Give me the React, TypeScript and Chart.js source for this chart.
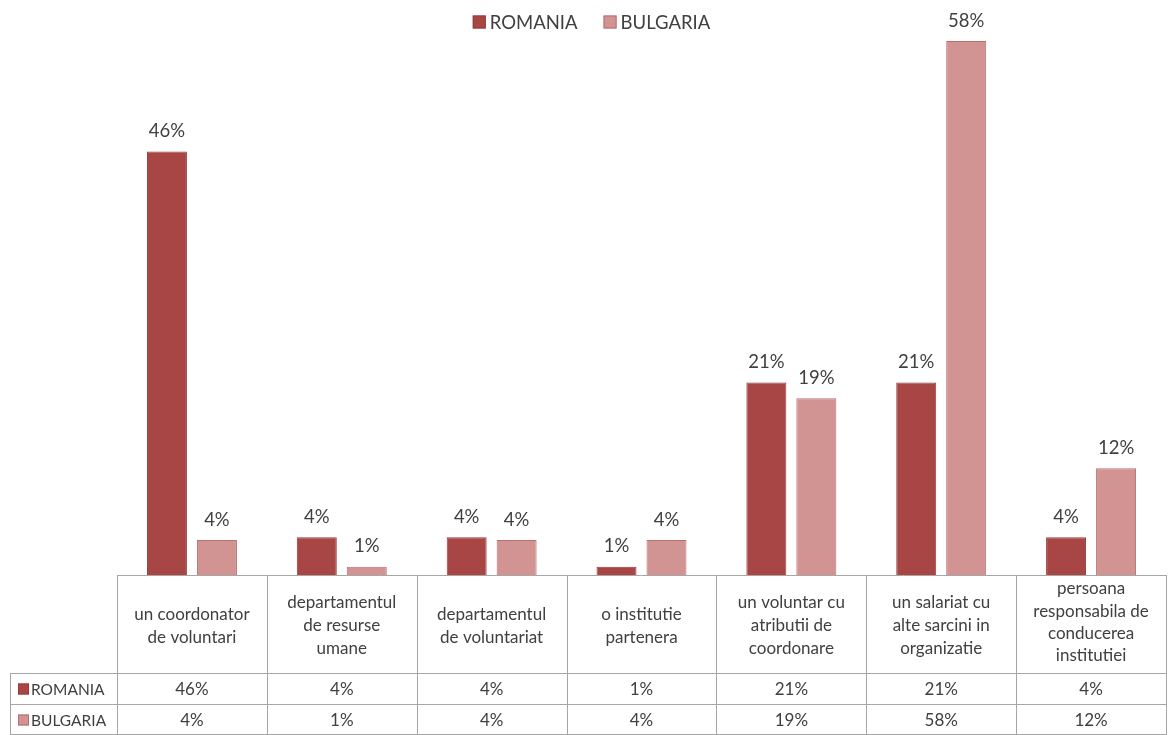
import React, { useEffect, useRef } from "react";
import { Chart, registerables } from "chart.js";

Chart.register(...registerables);

const categories: string[][] = [
  ["un coordonator", "de voluntari"],
  ["departamentul", "de resurse", "umane"],
  ["departamentul", "de voluntariat"],
  ["o institutie", "partenera"],
  ["un voluntar cu", "atributii de", "coordonare"],
  ["un salariat cu", "alte sarcini in", "organizatie"],
  ["persoana", "responsabila de", "conducerea", "institutiei"],
];
const romania = [46, 4.1, 4.1, 0.9, 20.9, 20.9, 4.1];
const bulgaria = [3.8, 0.9, 3.8, 3.8, 19.2, 58, 11.6];
const seriesNames = ["ROMANIA", "BULGARIA"];

const FONT = "Lato, 'Open Sans', sans-serif";
const TEXT = "#404040";
const GRID = "#a6a6a6";
const fills = ["#a84645", "#d29393"];
const borders = ["#953c3b", "#b86f6e"];

const labelPlugin = {
  id: "barLabels",
  afterDatasetsDraw(chart: any) {
    const ctx = chart.ctx;
    ctx.save();
    ctx.font = `18.5px ${FONT}`;
    ctx.fillStyle = TEXT;
    ctx.textAlign = "center";
    ctx.textBaseline = "bottom";
    chart.data.datasets.forEach((ds: any, i: number) => {
      const meta = chart.getDatasetMeta(i);
      meta.data.forEach((bar: any, j: number) => {
        ctx.fillText(Math.round(ds.data[j]) + "%", bar.x, bar.y - 11);
      });
    });
    ctx.restore();
  },
};

const legendPlugin = {
  id: "topLegend",
  afterDraw(chart: any) {
    const ctx = chart.ctx;
    ctx.save();
    ctx.font = `18.5px ${FONT}`;
    ctx.textBaseline = "middle";
    ctx.textAlign = "left";
    const box = 13;
    const gap = 4;
    const between = 26;
    const widths = seriesNames.map((s) => ctx.measureText(s).width);
    const total = widths.reduce((a, w) => a + box + gap + w, 0) + between;
    let x = chart.width / 2 + 7 - total / 2;
    const cy = 22;
    seriesNames.forEach((s, i) => {
      ctx.fillStyle = fills[i];
      ctx.fillRect(x, cy - box / 2, box, box);
      ctx.strokeStyle = borders[i];
      ctx.lineWidth = 1;
      ctx.strokeRect(x + 0.5, cy - box / 2 + 0.5, box - 1, box - 1);
      ctx.fillStyle = TEXT;
      ctx.fillText(s, x + box + gap, cy + 1);
      x += box + gap + widths[i] + between;
    });
    ctx.restore();
  },
};

const tablePlugin = {
  id: "dataTable",
  afterDraw(chart: any) {
    const ctx = chart.ctx;
    const area = chart.chartArea;
    const xs = chart.scales.x;
    const n = categories.length;
    const colW = (area.right - area.left) / n;
    const top = area.bottom;
    const headBottom = top + 98;
    const rowH = 31;
    const tableLeft = 10;
    const bottom = headBottom + rowH * 2;
    ctx.save();
    ctx.strokeStyle = GRID;
    ctx.lineWidth = 1;
    const line = (x1: number, y1: number, x2: number, y2: number) => {
      ctx.beginPath();
      ctx.moveTo(x1, y1);
      ctx.lineTo(x2, y2);
      ctx.stroke();
    };
    line(area.left, top + 0.5, area.right, top + 0.5);
    for (let i = 0; i <= n; i++) {
      const x = Math.round(area.left + colW * i) + 0.5;
      line(x, top, x, bottom);
    }
    line(tableLeft + 0.5, headBottom, tableLeft + 0.5, bottom);
    line(tableLeft, headBottom + 0.5, area.right, headBottom + 0.5);
    line(tableLeft, headBottom + rowH + 0.5, area.right, headBottom + rowH + 0.5);
    line(tableLeft, bottom - 0.5, area.right, bottom - 0.5);

    ctx.fillStyle = TEXT;
    ctx.textAlign = "center";
    ctx.textBaseline = "middle";
    ctx.font = `17px ${FONT}`;
    const lh = 23;
    const mid = top + 51;
    categories.forEach((lines, i) => {
      const cx = xs.getPixelForValue(i);
      let start = mid - ((lines.length - 1) * lh) / 2;
      let step = lh;
      if (lines.length > 3) {
        start = top + 14;
        step = 22.3;
      }
      lines.forEach((t, k) => ctx.fillText(t, cx, start + k * step));
    });
    const rows = [romania, bulgaria];
    rows.forEach((vals, r) => {
      const cy = headBottom + rowH * r + rowH / 2 + 1;
      ctx.textAlign = "center";
      ctx.fillStyle = TEXT;
      ctx.font = `17px ${FONT}`;
      vals.forEach((v, i) => {
        ctx.fillText(Math.round(v) + "%", xs.getPixelForValue(i), cy);
      });
      ctx.fillStyle = fills[r];
      ctx.fillRect(18, cy - 6, 11, 11);
      ctx.strokeStyle = borders[r];
      ctx.strokeRect(18.5, cy - 5.5, 10, 10);
      ctx.fillStyle = TEXT;
      ctx.textAlign = "left";
      ctx.font = `15.5px ${FONT}`;
      ctx.fillText(seriesNames[r], 31, cy);
    });
    ctx.restore();
  },
};

export default function App() {
  const ref = useRef<HTMLCanvasElement | null>(null);
  useEffect(() => {
    const chart = new Chart(ref.current!, {
      type: "bar",
      data: {
        labels: categories.map((c) => c.join(" ")),
        datasets: [
          {
            label: seriesNames[0],
            data: romania,
            backgroundColor: fills[0],
            borderColor: borders[0],
            borderWidth: 1,
            categoryPercentage: 0.667,
            barPercentage: 0.8,
          },
          {
            label: seriesNames[1],
            data: bulgaria,
            backgroundColor: fills[1],
            borderColor: borders[1],
            borderWidth: 1,
            categoryPercentage: 0.667,
            barPercentage: 0.8,
          },
        ],
      },
      options: {
        responsive: false,
        animation: false,
        layout: { padding: { left: 117, right: 3, top: 41, bottom: 160 } },
        plugins: {
          legend: { display: false },
          tooltip: { enabled: false },
        },
        scales: {
          x: { display: false },
          y: { display: false, min: 0, max: 58 },
        },
      },
      plugins: [labelPlugin, tablePlugin, legendPlugin],
    });
    return () => chart.destroy();
  }, []);
  return (
    <div style={{ position: "fixed", left: 0, top: 0, width: 1169, height: 735, background: "#fff" }}>
      <canvas ref={ref} width={1169} height={735} />
    </div>
  );
}
